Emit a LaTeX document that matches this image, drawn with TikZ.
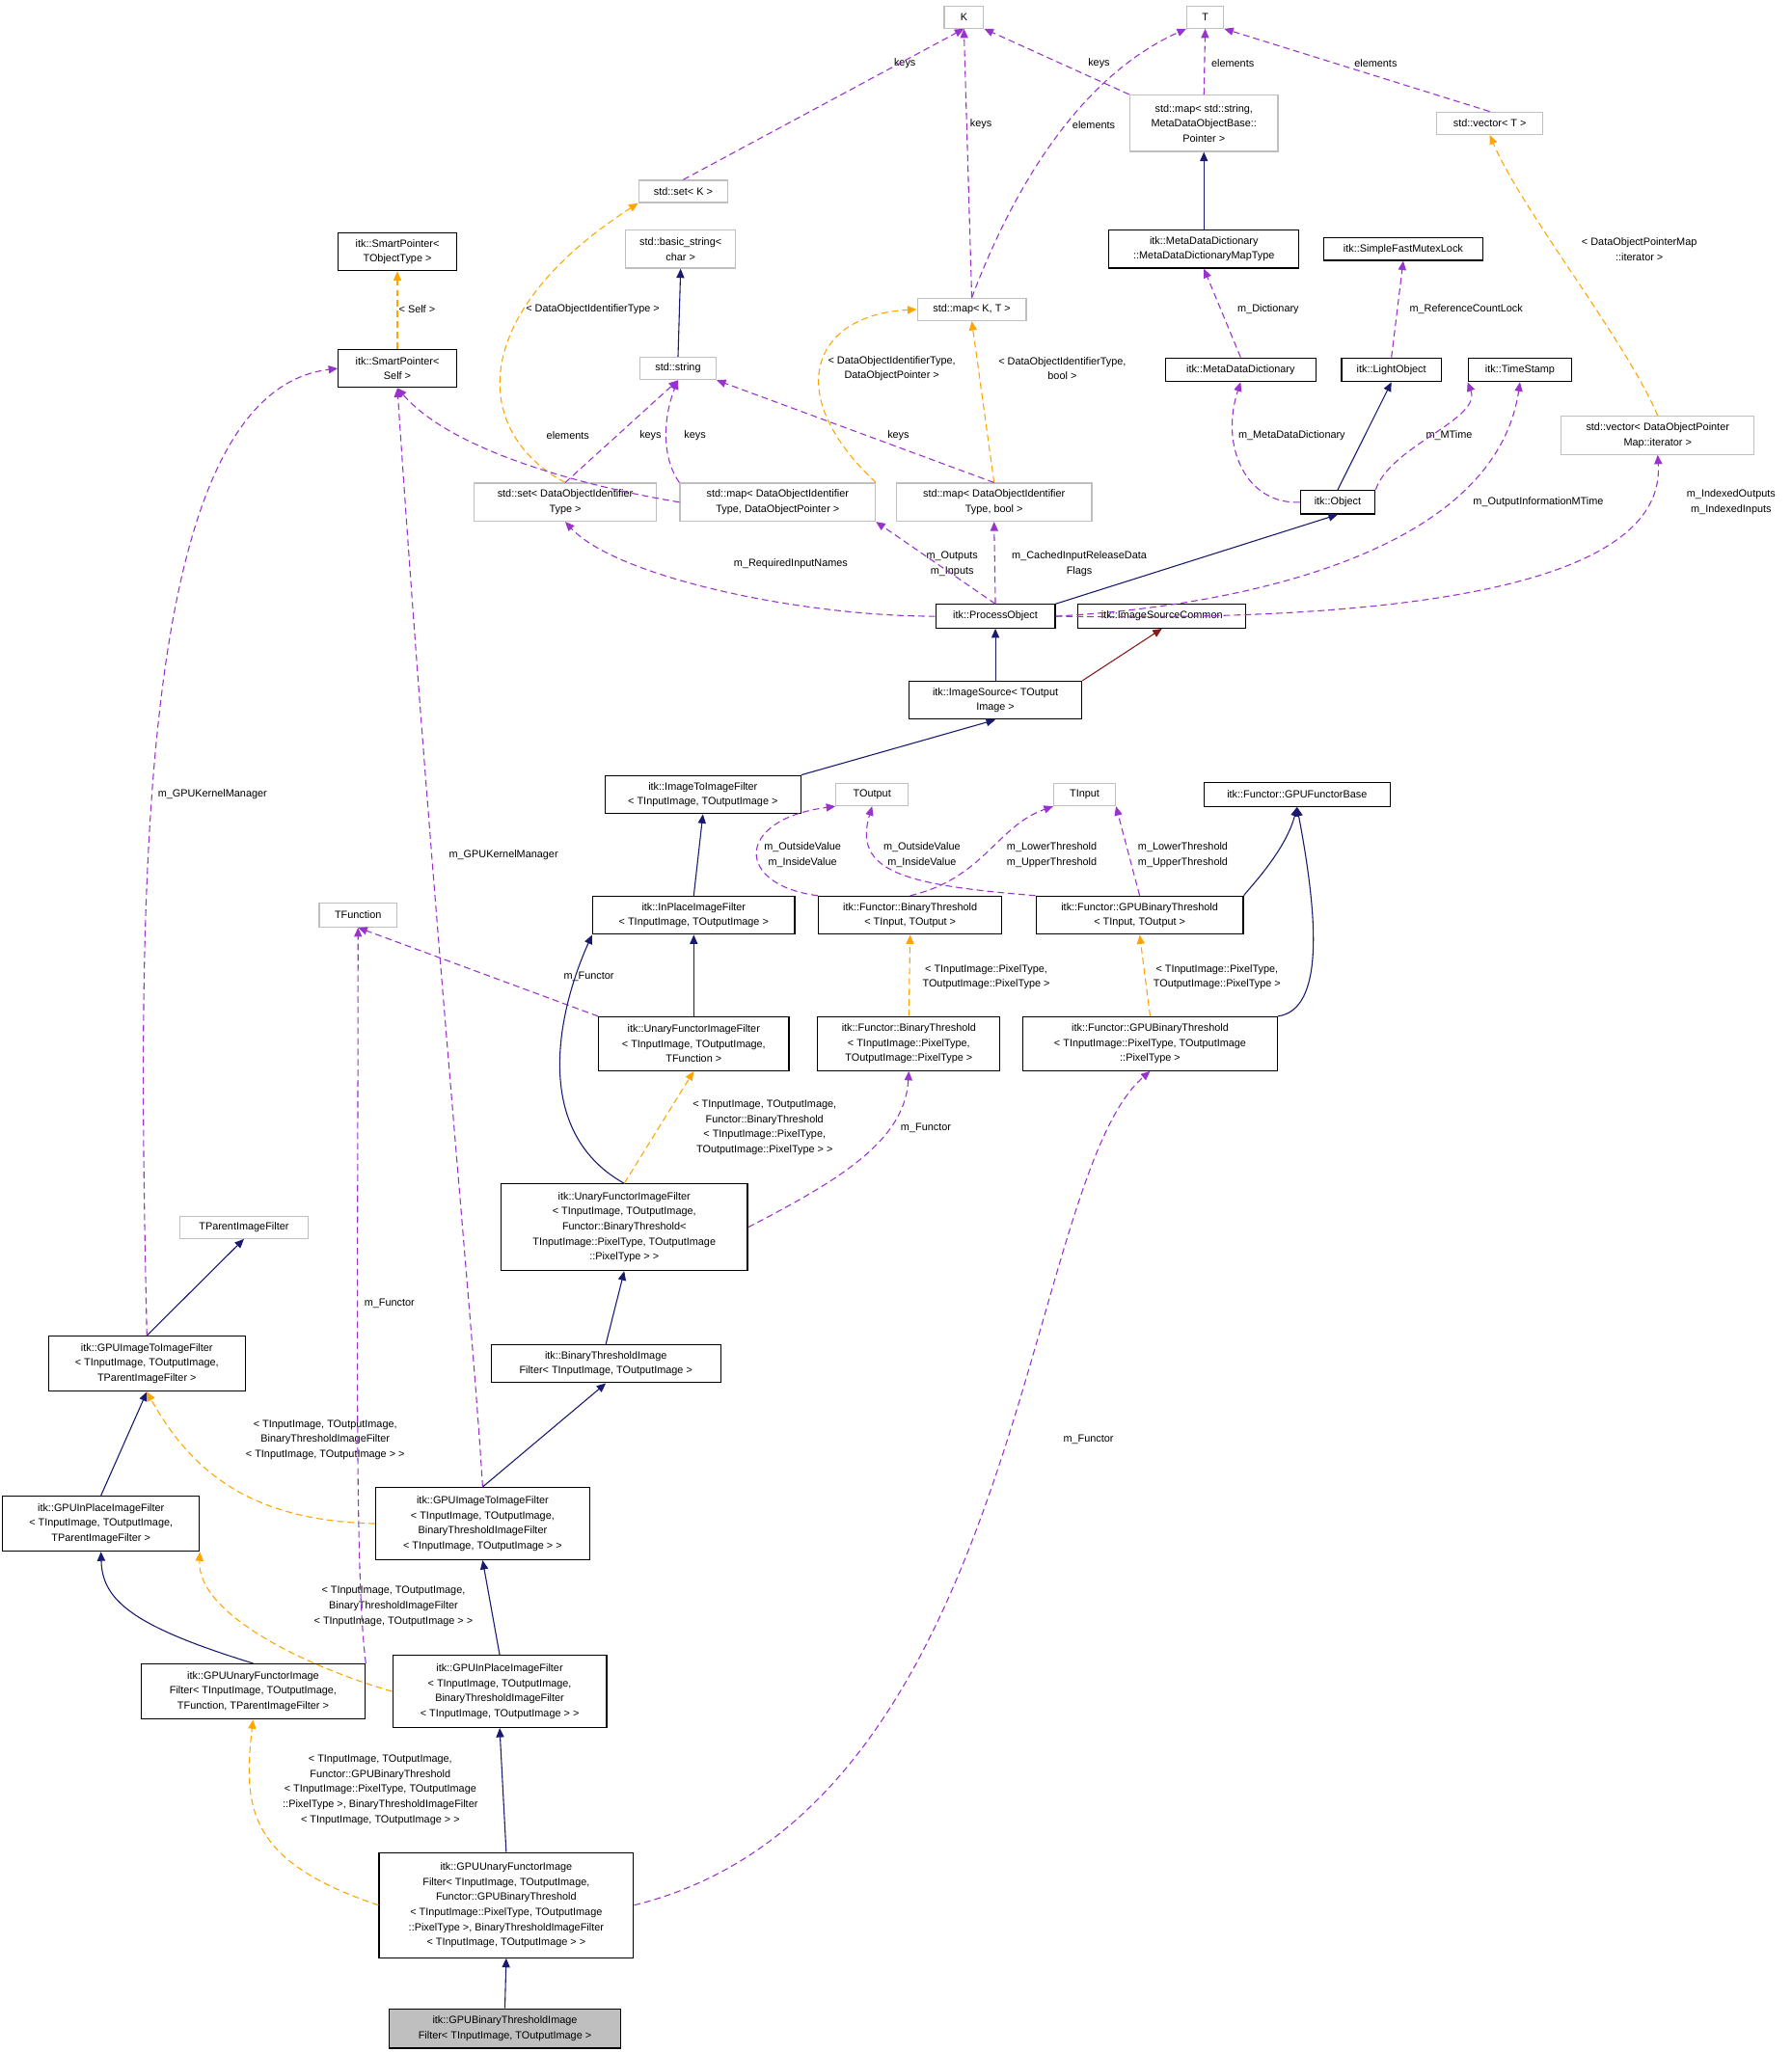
\documentclass[tikz,border=0pt]{standalone}
\usepackage{fontspec}
\setmainfont{Liberation Sans}
\usetikzlibrary{arrows.meta}
\definecolor{inh}{HTML}{191970}
\definecolor{usec}{HTML}{9A32CD}
\definecolor{tmpl}{HTML}{FFA500}
\definecolor{prv}{HTML}{8B1A1A}
\definecolor{gbord}{HTML}{BFBFBF}
\begin{document}
\begin{tikzpicture}[x=1pt,y=-1pt,
  every node/.style={font=\fontsize{8}{11.5}\selectfont, align=center, inner sep=1pt},
  bx/.style={draw=black, line width=0.9pt, inner xsep=3pt},
  gx/.style={draw=gbord, line width=0.9pt, inner xsep=3pt},
  lbl/.style={},
  tip/.style={-{Triangle[length=7pt,width=6pt]}},
  inhe/.style={tip, draw=inh, line width=0.8pt, {Triangle[length=7pt,width=6pt]}-, },
  ie/.style={draw=inh, line width=0.8pt, -{Triangle[length=7pt,width=6pt,fill=inh]}},
  ue/.style={draw=usec, line width=0.8pt, dashed, dash pattern=on 5pt off 3pt, -{Triangle[length=7pt,width=6pt,fill=usec]}},
  te/.style={draw=tmpl, line width=0.8pt, dashed, dash pattern=on 5pt off 3pt, -{Triangle[length=7pt,width=6pt,fill=tmpl]}},
  pe/.style={draw=prv, line width=0.8pt, -{Triangle[length=7pt,width=6pt,fill=prv]}}]
\useasboundingbox (0,0) rectangle (1366,1565);
% nodes
\node[gx,minimum width=30,minimum height=17] (K) at (735,13) {K};
\node[gx,minimum width=28,minimum height=17] (T) at (919,13) {T};
\node[gx,minimum width=68,minimum height=17] (setK) at (521,146) {std::set< K >};
\node[gx,minimum width=113,minimum height=43] (mapS) at (918,94) {std::map< std::string,\\MetaDataObjectBase::\\Pointer >};
\node[gx,minimum width=81,minimum height=17] (vecT) at (1136,94) {std::vector< T >};
\node[bx,minimum width=90,minimum height=29] (spT) at (303,192) {itk::SmartPointer<\\TObjectType >};
\node[gx,minimum width=84,minimum height=29] (bstr) at (519,190) {std::basic\_string<\\char >};
\node[bx,minimum width=145,minimum height=29] (mddmt) at (918,190) {itk::MetaDataDictionary\\::MetaDataDictionaryMapType};
\node[bx,minimum width=121,minimum height=17] (sfml) at (1070,190) {itk::SimpleFastMutexLock};
\node[gx,minimum width=83,minimum height=17] (mapKT) at (741,236) {std::map< K, T >};
\node[bx,minimum width=90,minimum height=29] (spS) at (303,281) {itk::SmartPointer<\\Self >};
\node[gx,minimum width=58,minimum height=17] (str) at (517,281) {std::string};
\node[bx,minimum width=115,minimum height=18] (mdd) at (946,282) {itk::MetaDataDictionary};
\node[bx,minimum width=76,minimum height=18] (lo) at (1061,282) {itk::LightObject};
\node[bx,minimum width=79,minimum height=18] (ts) at (1159,282) {itk::TimeStamp};
\node[gx,minimum width=147,minimum height=29] (vdp) at (1264,332) {std::vector< DataObjectPointer\\Map::iterator >};
\node[gx,minimum width=139,minimum height=29] (sdo) at (431,383) {std::set< DataObjectIdentifier\\Type >};
\node[gx,minimum width=149,minimum height=29] (mdp) at (593,383) {std::map< DataObjectIdentifier\\Type, DataObjectPointer >};
\node[gx,minimum width=149,minimum height=29] (mdb) at (758,383) {std::map< DataObjectIdentifier\\Type, bool >};
\node[bx,minimum width=57,minimum height=18] (obj) at (1020,383) {itk::Object};
\node[bx,minimum width=91,minimum height=18] (po) at (759,470) {itk::ProcessObject};
\node[bx,minimum width=128,minimum height=18] (isc) at (886,470) {itk::ImageSourceCommon};
\node[bx,minimum width=132,minimum height=29] (is) at (759,534) {itk::ImageSource< TOutput\\Image >};
\node[bx,minimum width=149,minimum height=29] (i2i) at (536,606) {itk::ImageToImageFilter\\< TInputImage, TOutputImage >};
\node[gx,minimum width=55,minimum height=17] (tout) at (665,606) {TOutput};
\node[gx,minimum width=47,minimum height=17] (tin) at (827,606) {TInput};
\node[bx,minimum width=142,minimum height=18] (gfb) at (989,606) {itk::Functor::GPUFunctorBase};
\node[gx,minimum width=59,minimum height=18] (tf) at (273,698) {TFunction};
\node[bx,minimum width=154,minimum height=29] (ipf) at (529,698) {itk::InPlaceImageFilter\\< TInputImage, TOutputImage >};
\node[bx,minimum width=140,minimum height=29] (bt) at (694,698) {itk::Functor::BinaryThreshold\\< TInput, TOutput >};
\node[bx,minimum width=158,minimum height=29] (gbt) at (869,698) {itk::Functor::GPUBinaryThreshold\\< TInput, TOutput >};
\node[bx,minimum width=145,minimum height=41] (uf) at (529,796) {itk::UnaryFunctorImageFilter\\< TInputImage, TOutputImage,\\TFunction >};
\node[bx,minimum width=139,minimum height=41] (btp) at (693,796) {itk::Functor::BinaryThreshold\\< TInputImage::PixelType,\\TOutputImage::PixelType >};
\node[bx,minimum width=194,minimum height=41] (gbtp) at (877,796) {itk::Functor::GPUBinaryThreshold\\< TInputImage::PixelType, TOutputImage\\::PixelType >};
\node[gx,minimum width=98,minimum height=17] (tpif) at (186,936) {TParentImageFilter};
\node[bx,minimum width=188,minimum height=66] (ufb) at (476,936) {itk::UnaryFunctorImageFilter\\< TInputImage, TOutputImage,\\Functor::BinaryThreshold<\\TInputImage::PixelType, TOutputImage\\::PixelType > >};
\node[bx,minimum width=150,minimum height=42] (g2i) at (112,1040) {itk::GPUImageToImageFilter\\< TInputImage, TOutputImage,\\TParentImageFilter >};
\node[bx,minimum width=175,minimum height=29] (btif) at (462,1040) {itk::BinaryThresholdImage\\Filter< TInputImage, TOutputImage >};
\node[bx,minimum width=150,minimum height=42] (gipl) at (77,1162) {itk::GPUInPlaceImageFilter\\< TInputImage, TOutputImage,\\TParentImageFilter >};
\node[bx,minimum width=163,minimum height=55] (g2im) at (368,1162) {itk::GPUImageToImageFilter\\< TInputImage, TOutputImage,\\BinaryThresholdImageFilter\\< TInputImage, TOutputImage > >};
\node[bx,minimum width=171,minimum height=42] (gul) at (193,1290) {itk::GPUUnaryFunctorImage\\Filter< TInputImage, TOutputImage,\\TFunction, TParentImageFilter >};
\node[bx,minimum width=163,minimum height=55] (gipm) at (381,1290) {itk::GPUInPlaceImageFilter\\< TInputImage, TOutputImage,\\BinaryThresholdImageFilter\\< TInputImage, TOutputImage > >};
\node[bx,minimum width=194,minimum height=80] (gub) at (386,1453) {itk::GPUUnaryFunctorImage\\Filter< TInputImage, TOutputImage,\\Functor::GPUBinaryThreshold\\< TInputImage::PixelType, TOutputImage\\::PixelType >, BinaryThresholdImageFilter\\< TInputImage, TOutputImage > >};
\node[bx,fill=gbord,minimum width=176,minimum height=30] (gbtf) at (385,1547) {itk::GPUBinaryThresholdImage\\Filter< TInputImage, TOutputImage >};
% labels
\node (l1) at (690,48) {keys};
\node (l2) at (838,48) {keys};
\node (l3) at (940,48) {elements};
\node (l4) at (1049,48) {elements};
\node (l5) at (748,95) {keys};
\node (l6) at (834,95) {elements};
\node (l7) at (318,236) {< Self >};
\node (l8) at (452,236) {< DataObjectIdentifierType >};
\node (l9) at (680,281) {< DataObjectIdentifierType,\\DataObjectPointer >};
\node (l10) at (810,281) {< DataObjectIdentifierType,\\bool >};
\node (l11) at (967,236) {m\_Dictionary};
\node (l12) at (1118,236) {m\_ReferenceCountLock};
\node (l13) at (1250,190) {< DataObjectPointerMap\\::iterator >};
\node (l14) at (496,332) {keys};
\node (l15) at (530,332) {keys};
\node (l16) at (685,332) {keys};
\node (l17) at (433,332) {elements};
\node (l18) at (985,332) {m\_MetaDataDictionary};
\node (l19) at (1105,332) {m\_MTime};
\node (l20) at (1173,383) {m\_OutputInformationMTime};
\node (l21) at (1320,383) {m\_IndexedOutputs\\m\_IndexedInputs};
\node (l22) at (603,430) {m\_RequiredInputNames};
\node (l23) at (726,430) {m\_Outputs\\m\_Inputs};
\node (l24) at (823,430) {m\_CachedInputReleaseData\\Flags};
\node (l25) at (612,652) {m\_OutsideValue\\m\_InsideValue};
\node (l26) at (703,652) {m\_OutsideValue\\m\_InsideValue};
\node (l27) at (802,652) {m\_LowerThreshold\\m\_UpperThreshold};
\node (l28) at (902,652) {m\_LowerThreshold\\m\_UpperThreshold};
\node (l29) at (449,745) {m\_Functor};
\node (l30) at (752,745) {< TInputImage::PixelType,\\TOutputImage::PixelType >};
\node (l31) at (928,745) {< TInputImage::PixelType,\\TOutputImage::PixelType >};
\node (l32) at (583,860) {< TInputImage, TOutputImage,\\Functor::BinaryThreshold\\< TInputImage::PixelType,\\TOutputImage::PixelType > >};
\node (l33) at (706,860) {m\_Functor};
\node (l34) at (162,606) {m\_GPUKernelManager};
\node (l35) at (384,652) {m\_GPUKernelManager};
\node (l36) at (297,994) {m\_Functor};
\node (l37) at (248,1098) {< TInputImage, TOutputImage,\\BinaryThresholdImageFilter\\< TInputImage, TOutputImage > >};
\node (l38) at (300,1225) {< TInputImage, TOutputImage,\\BinaryThresholdImageFilter\\< TInputImage, TOutputImage > >};
\node (l39) at (290,1365) {< TInputImage, TOutputImage,\\Functor::GPUBinaryThreshold\\< TInputImage::PixelType, TOutputImage\\::PixelType >, BinaryThresholdImageFilter\\< TInputImage, TOutputImage > >};
\node (l40) at (830,1098) {m\_Functor};
% edges
\draw[ue] (setK.north) -- (K.south);
\draw[ue] (mapS.north west) -- (K.south east);
\draw[ue] (mapS.north) -- (T.south);
\draw[ue] (vecT.north) -- (T.south east);
\draw[ue] (mapKT.north) -- (K.south);
\draw[ue] (mapKT.north) .. controls (770,150) and (820,60) .. (T.south west);
\draw[ie] (mddmt.north) -- (mapS.south);
\draw[te] (spS.north) -- (spT.south);
\draw[te] (sdo.north) .. controls (360,330) and (355,240) .. (setK.south west);
\draw[ie] (str.north) -- (bstr.south);
\draw[te] (mdp.north east) .. controls (595,300) and (620,240) .. (mapKT.west);
\draw[te] (mdb.north) -- (mapKT.south);
\draw[ue] (mdd.north) -- (mddmt.south);
\draw[ue] (lo.north) -- (sfml.south);
\draw[te] (vdp.north) .. controls (1240,260) and (1160,160) .. (vecT.south);
\draw[ue] (sdo.north) -- (str.south);
\draw[ue] (mdp.north west) .. controls (505,350) and (505,320) .. (str.south);
\draw[ue] (mdb.north) -- (str.south east);
\draw[ue] (mdp.west) .. controls (470,375) and (350,350) .. (spS.south);
\draw[ie] (obj.north) -- (lo.south);
\draw[ue] (obj.west) .. controls (950,385) and (930,340) .. (mdd.south);
\draw[ue] (obj.north east) .. controls (1060,340) and (1130,320) .. (ts.south west);
\draw[ue] (po.east) .. controls (950,462) and (1140,420) .. (ts.south);
\draw[ue] (po.east) .. controls (1100,475) and (1270,440) .. (vdp.south);
\draw[ue] (po.west) .. controls (610,470) and (470,440) .. (sdo.south);
\draw[ue] (po.north) -- (mdp.south east);
\draw[ue] (po.north) -- (mdb.south);
\draw[ie] (po.north east) -- (obj.south);
\draw[ie] (is.north) -- (po.south);
\draw[pe] (is.north east) -- (isc.south);
\draw[ie] (i2i.north east) -- (is.south);
\draw[ie] (ipf.north) -- (i2i.south);
\draw[ue] (bt.north west) .. controls (560,675) and (560,625) .. (tout.south west);
\draw[ue] (gbt.north west) .. controls (690,675) and (650,665) .. (tout.south);
\draw[ue] (bt.north) .. controls (750,670) and (760,630) .. (tin.south west);
\draw[ue] (gbt.north) -- (tin.south east);
\draw[ie] (gbt.north east) .. controls (950,680) and (980,650) .. (gfb.south);
\draw[ie] (uf.north) -- (ipf.south);
\draw[ue] (uf.north west) -- (tf.south);
\draw[te] (btp.north) -- (bt.south);
\draw[te] (gbtp.north) -- (gbt.south);
\draw[ie] (gbtp.north east) .. controls (1010,770) and (1005,700) .. (gfb.south);
\draw[ie] (ufb.north) .. controls (400,860) and (430,760) .. (ipf.south west);
\draw[te] (ufb.north) -- (uf.south);
\draw[ue] (ufb.east) .. controls (640,900) and (690,870) .. (btp.south);
\draw[ie] (btif.north) -- (ufb.south);
\draw[ie] (g2i.north) -- (tpif.south);
\draw[ue] (g2i.north) .. controls (105,700) and (100,300) .. (spS.west);
\draw[ie] (gipl.north) -- (g2i.south);
\draw[te] (g2im.west) .. controls (200,1160) and (150,1130) .. (g2i.south);
\draw[ie] (g2im.north) -- (btif.south);
\draw[ue] (g2im.north) .. controls (360,1000) and (330,700) .. (spS.south);
\draw[ie] (gul.north) .. controls (100,1240) and (78,1220) .. (gipl.south);
\draw[ue] (gul.north east) .. controls (270,1200) and (273,1000) .. (tf.south);
\draw[te] (gipm.west) .. controls (230,1270) and (150,1230) .. (gipl.south east);
\draw[ie] (gipm.north) -- (g2im.south);
\draw[te] (gub.west) .. controls (190,1420) and (185,1380) .. (gul.south);
\draw[ie] (gub.north) -- (gipm.south);
\draw[ue] (gub.east) .. controls (780,1380) and (780,900) .. (gbtp.south);
\draw[ie] (gbtf.north) -- (gub.south);
\end{tikzpicture}
\end{document}
